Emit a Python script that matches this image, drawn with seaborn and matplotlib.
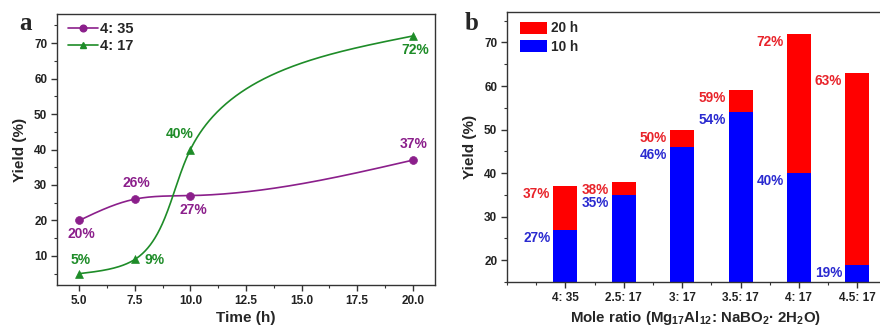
import numpy as np
import pandas as pd
import matplotlib
matplotlib.use("Agg")
import matplotlib.pyplot as plt
from matplotlib.lines import Line2D
from matplotlib.patches import Patch
from matplotlib.ticker import MultipleLocator
import seaborn as sns

# ---------------- data ----------------
time_h = [5.0, 7.5, 10.0, 20.0]
yield_4_35 = [20, 26, 27, 37]
yield_4_17 = [5, 9, 40, 72]
labels_4_35 = ["20%", "26%", "27%", "37%"]
labels_4_17 = ["5%", "9%", "40%", "72%"]

ratios = ["4: 35", "2.5: 17", "3: 17", "3.5: 17", "4: 17", "4.5: 17"]
yield_10h = [27, 35, 46, 54, 40, 19]
yield_20h = [37, 38, 50, 59, 72, 63]

# ---------------- style ----------------
sns.set_theme(style="ticks")
plt.rcParams["font.family"] = ["Liberation Sans", "DejaVu Sans"]
plt.rcParams["font.weight"] = "bold"
plt.rcParams["mathtext.fontset"] = "custom"
plt.rcParams["mathtext.rm"] = "Liberation Sans:bold"
plt.rcParams["mathtext.bf"] = "Liberation Sans:bold"
plt.rcParams["mathtext.default"] = "bf"

PURPLE = "#8B1F8B"
GREEN = "#1E8C28"
RED = "#FF0000"
BLUE = "#0000FF"
RED_T = "#E8232A"
BLUE_T = "#2A2AD0"
SPINE = "#333333"
PX = 0.72  # points per pixel at 100 dpi

fig = plt.figure(figsize=(8.8, 3.29), dpi=100)
ax1 = fig.add_axes([57 / 880, 1 - 285 / 329, 378 / 880, 271 / 329])
ax2 = fig.add_axes([507 / 880, 1 - 282 / 329, 376 / 880, 270 / 329])


def natural_spline(t, v, tt):
    t = np.asarray(t, float)
    v = np.asarray(v, float)
    n = len(t)
    h = np.diff(t)
    A = np.zeros((n, n))
    r = np.zeros(n)
    A[0, 0] = 1
    A[-1, -1] = 1
    for i in range(1, n - 1):
        A[i, i - 1] = h[i - 1]
        A[i, i] = 2 * (h[i - 1] + h[i])
        A[i, i + 1] = h[i]
        r[i] = 6 * ((v[i + 1] - v[i]) / h[i] - (v[i] - v[i - 1]) / h[i - 1])
    M = np.linalg.solve(A, r)
    out = np.empty_like(tt)
    idx = np.clip(np.searchsorted(t, tt) - 1, 0, n - 2)
    for k, x in enumerate(tt):
        i = idx[k]
        hi = h[i]
        a = t[i + 1] - x
        b = x - t[i]
        out[k] = (M[i] * a ** 3 / (6 * hi) + M[i + 1] * b ** 3 / (6 * hi)
                  + (v[i] / hi - M[i] * hi / 6) * a + (v[i + 1] / hi - M[i + 1] * hi / 6) * b)
    return out


XL = (4.0, 21.0)
YL = (1.8, 78.2)


def smooth_curve(x, y):
    # parametric spline in screen-like coordinates (rendering only)
    X = (np.asarray(x) - XL[0]) / (XL[1] - XL[0]) * 378
    Y = (np.asarray(y) - YL[0]) / (YL[1] - YL[0]) * 271
    d = np.sqrt(np.diff(X) ** 2 + np.diff(Y) ** 2)
    t = np.concatenate([[0], np.cumsum(d)])
    tt = np.linspace(0, t[-1], 400)
    xs = natural_spline(t, X, tt) / 378 * (XL[1] - XL[0]) + XL[0]
    ys = natural_spline(t, Y, tt) / 271 * (YL[1] - YL[0]) + YL[0]
    return xs, ys


# ---------------- panel a ----------------
for yv, col, mk in [(yield_4_35, PURPLE, "o"), (yield_4_17, GREEN, "^")]:
    xs, ys = smooth_curve(time_h, yv)
    curve = pd.DataFrame({"x": xs, "y": ys})
    sns.lineplot(data=curve, x="x", y="y", sort=False, estimator=None,
                 color=col, lw=1.2, ax=ax1)
    pts = pd.DataFrame({"x": time_h, "y": yv})
    sns.scatterplot(data=pts, x="x", y="y", color=col, marker=mk, s=32,
                    edgecolor=col, linewidth=0.5, ax=ax1, zorder=5)

off_35 = [(2, -14), (2, 16), (3, -14), (1, 16)]
off_17 = [(1, 14), (20, -1), (-11, 16), (2, -14)]
for x, y, lab, (dx, dy) in zip(time_h, yield_4_35, labels_4_35, off_35):
    ax1.annotate(lab, (x, y), xytext=(dx * PX, dy * PX), textcoords="offset points",
                 ha="center", va="center", color=PURPLE, fontsize=10, fontweight="bold")
for x, y, lab, (dx, dy) in zip(time_h, yield_4_17, labels_4_17, off_17):
    ax1.annotate(lab, (x, y), xytext=(dx * PX, dy * PX), textcoords="offset points",
                 ha="center", va="center", color=GREEN, fontsize=10, fontweight="bold")

ax1.set_xlim(*XL)
ax1.set_ylim(*YL)
ax1.xaxis.set_minor_locator(MultipleLocator(1.25))
ax1.yaxis.set_minor_locator(MultipleLocator(5))
ax1.set_yticks([10, 20, 30, 40, 50, 60, 70])
ax1.set_xticks([5.0, 7.5, 10.0, 12.5, 15.0, 17.5, 20.0])
ax1.set_xticklabels(["5.0", "7.5", "10.0", "12.5", "15.0", "17.5", "20.0"])
ax1.set_xlabel("Time (h)", fontsize=11, fontweight="bold", labelpad=3)
ax1.set_ylabel("Yield (%)", fontsize=11, fontweight="bold", labelpad=5)

leg_a = [Line2D([], [], color=PURPLE, marker="o", ms=4.8, lw=1.2, label="4: 35"),
         Line2D([], [], color=GREEN, marker="^", ms=4.8, lw=1.2, label="4: 17")]
ax1.legend(handles=leg_a, loc="upper left", bbox_to_anchor=(0.03, 0.97),
           frameon=False, handlelength=2.0, handletextpad=0.15,
           labelspacing=0.2, borderaxespad=0, borderpad=0,
           prop={"weight": "bold", "size": 10.5})

# ---------------- panel b ----------------
dfb = pd.DataFrame({"ratio": ratios, "h20": yield_20h, "h10": yield_10h})
sns.barplot(data=dfb, x="ratio", y="h20", color=RED, saturation=1, width=0.41,
            ax=ax2, linewidth=0)
sns.barplot(data=dfb, x="ratio", y="h10", color=BLUE, saturation=1, width=0.41,
            ax=ax2, linewidth=0)

for i, (v10, v20) in enumerate(zip(yield_10h, yield_20h)):
    ax2.annotate(f"{v20}%", (i - 0.205, v20), xytext=(-3 * PX, -8 * PX),
                 textcoords="offset points", ha="right", va="center",
                 color=RED_T, fontsize=9.8, fontweight="bold")
    ax2.annotate(f"{v10}%", (i - 0.205, v10), xytext=(-3 * PX, -8 * PX),
                 textcoords="offset points", ha="right", va="center",
                 color=BLUE_T, fontsize=9.8, fontweight="bold")

ax2.set_xlim(-1.0, 5.44)
ax2.set_ylim(15, 77)
ax2.set_xticks(range(len(ratios)))
ax2.set_xticklabels(ratios)
ax2.xaxis.set_minor_locator(MultipleLocator(0.5))
ax2.set_yticks([20, 30, 40, 50, 60, 70])
ax2.yaxis.set_minor_locator(MultipleLocator(5))
ax2.set_xlabel("Mole ratio (Mg$_{17}$Al$_{12}$: NaBO$_{2}$· 2H$_{2}$O)",
               fontsize=10.8, fontweight="bold", labelpad=4)
ax2.set_ylabel("Yield (%)", fontsize=11, fontweight="bold", labelpad=5)

leg_b = [Patch(facecolor=RED, edgecolor="none", label="20 h"),
         Patch(facecolor=BLUE, edgecolor="none", label="10 h")]
ax2.legend(handles=leg_b, loc="upper left", bbox_to_anchor=(0.035, 0.965),
           frameon=False, handlelength=2.0, handleheight=1.0, handletextpad=0.3,
           labelspacing=0.3, borderaxespad=0, borderpad=0,
           prop={"weight": "bold", "size": 9.8})

for ax in (ax1, ax2):
    for s in ax.spines.values():
        s.set_visible(True)
        s.set_color(SPINE)
        s.set_linewidth(1.0)
    ax.tick_params(which="major", direction="out", length=4, width=1,
                   color=SPINE, labelsize=8.5, pad=3)
    ax.tick_params(which="minor", direction="out", length=2.5, width=0.8,
                   color=SPINE)
    for lab in ax.get_xticklabels() + ax.get_yticklabels():
        lab.set_fontweight("bold")
        lab.set_color("#222222")

fig.text(25 / 880, 1 - 23 / 329, "a", family=["Liberation Serif", "DejaVu Serif"],
         fontsize=18, fontweight="bold", ha="center", va="center")
fig.text(472 / 880, 1 - 24 / 329, "b", family=["Liberation Serif", "DejaVu Serif"],
         fontsize=18, fontweight="bold", ha="center", va="center")

fig.savefig("out.png", dpi=100)
